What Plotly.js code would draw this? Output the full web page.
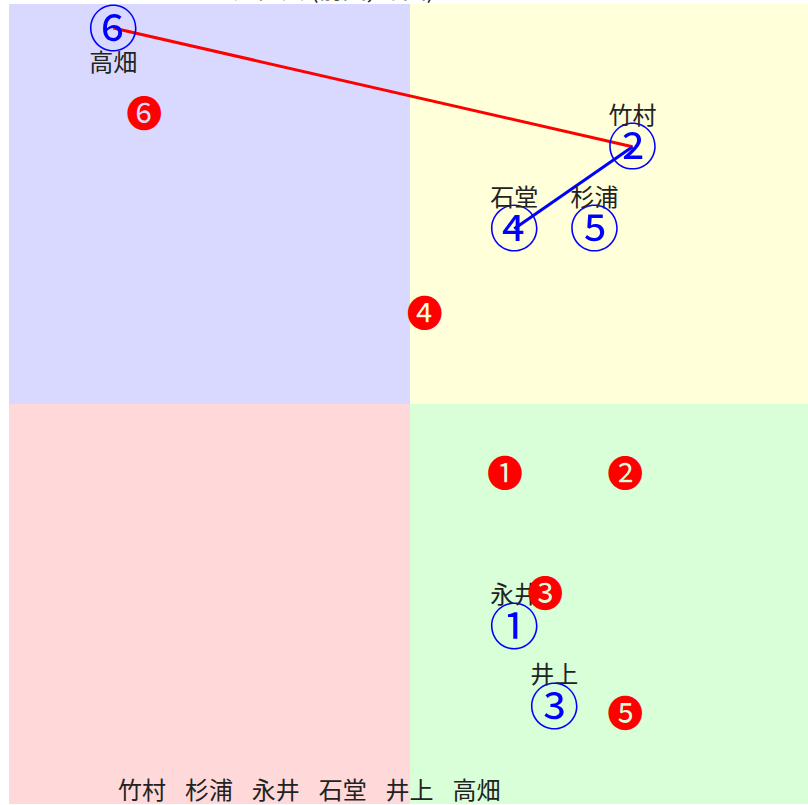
<!DOCTYPE html>
<html>
<head>
<meta charset="utf-8">
<script src="https://cdn.plot.ly/plotly-3.0.1.min.js"></script>
<style>
html, body { margin: 0; padding: 0; overflow: hidden; background: #fff; }
#chart { width: 811px; height: 806px; }
</style>
</head>
<body>
<div id="chart"></div>
<script>
// Blue circled members (①..⑥) with names
const blueMarks = ['①', '②', '③', '④', '⑤', '⑥'];
const names = ['永井', '竹村', '井上', '石堂', '杉浦', '高畑'];
const blueX = [2.6, 5.55, 3.6, 2.6, 4.6, -7.4];
const blueY = [-5.55, 6.43, -7.55, 4.38, 4.38, 9.4];

// Red filled numbers (❶..❻)
const redMarks = ['❶', '❷', '❸', '❹', '❺', '❻'];
const redX = [2, 5, 3, 0, 5, -7];
const redY = [-2, -2, -5, 2, -8, 7];

// Connections (by member index, 0-based)
const redPath = [5, 1];
const bluePath = [1, 3];

// Texts
const bottomNames = ['竹村', '杉浦', '永井', '石堂', '井上', '高畑'];
const titleText = 'メンバー配置図 (前回, 今回)';

const CJK = '"Noto Sans CJK JP", "Noto Sans", sans-serif';
const MARKFONT = '"Noto Sans CJK JP", "DejaVu Sans", sans-serif';

const traces = [];

traces.push({
  type: 'scatter', mode: 'lines',
  x: redPath.map(i => blueX[i]), y: redPath.map(i => blueY[i]),
  line: { color: '#ff0000', width: 3 }, hoverinfo: 'skip', showlegend: false
});
traces.push({
  type: 'scatter', mode: 'lines',
  x: bluePath.map(i => blueX[i]), y: bluePath.map(i => blueY[i]),
  line: { color: '#0000ff', width: 3 }, hoverinfo: 'skip', showlegend: false
});

// blue circled numbers (glyph centred on the point)
traces.push({
  type: 'scatter', mode: 'text',
  x: blueX, y: blueY.map(v => v - 0.15), text: blueMarks,
  textposition: 'middle center',
  textfont: { family: MARKFONT, size: 50, color: '#0000ff' },
  hoverinfo: 'skip', showlegend: false
});

// names above (or below for top-edge one)
const labelBelow = blueY.map(v => v > 9);
traces.push({
  type: 'scatter', mode: 'text',
  x: blueX,
  y: blueY.map((v, i) => labelBelow[i] ? v - 0.93 : v + 0.73),
  text: names,
  textposition: 'middle center',
  textfont: { family: CJK, size: 24, color: '#222222' },
  hoverinfo: 'skip', showlegend: false
});

// red filled numbers (left / baseline anchored at integer points)
traces.push({
  type: 'scatter', mode: 'text',
  x: redX.map(v => v + 0.37), y: redY.map(v => v + 0.15), text: redMarks,
  textposition: 'middle center',
  textfont: { family: MARKFONT, size: 36, color: '#ff0000' },
  hoverinfo: 'skip', showlegend: false
});

const shapes = [
  { x0: -10, x1: 0, y0: 0, y1: 10, color: '#d9d9ff' },
  { x0: 0, x1: 10, y0: 0, y1: 10, color: '#ffffd9' },
  { x0: -10, x1: 0, y0: -10, y1: 0, color: '#ffd9d9' },
  { x0: 0, x1: 10, y0: -10, y1: 0, color: '#d9ffd9' }
].map(q => ({
  type: 'rect', xref: 'x', yref: 'y', x0: q.x0, x1: q.x1, y0: q.y0, y1: q.y1,
  fillcolor: q.color, line: { width: 0 }, layer: 'below'
}));

const layout = {
  width: 811, height: 806,
  margin: { l: 9, r: 0, t: 4, b: 2, pad: 0 },
  paper_bgcolor: '#ffffff', plot_bgcolor: '#ffffff',
  xaxis: { range: [-10, 10], visible: false, fixedrange: true },
  yaxis: { range: [-10, 10], visible: false, fixedrange: true },
  shapes: shapes,
  showlegend: false,
  annotations: [
    {
      xref: 'paper', yref: 'paper', x: 0.134, y: 0.0, xanchor: 'left', yanchor: 'middle',
      yshift: 16,
      text: bottomNames.join('\u2002\u00a0\u200a'), showarrow: false,
      font: { family: CJK, size: 24, color: '#222222' }
    },
    {
      xref: 'paper', yref: 'paper', x: 0.157, y: 1.0, xanchor: 'left', yanchor: 'bottom',
      yshift: -3,
      text: titleText, showarrow: false,
      font: { family: CJK, size: 24, color: '#222222' }
    }
  ]
};

Plotly.newPlot('chart', traces, layout, { staticPlot: true, displayModeBar: false });
</script>
</body>
</html>
